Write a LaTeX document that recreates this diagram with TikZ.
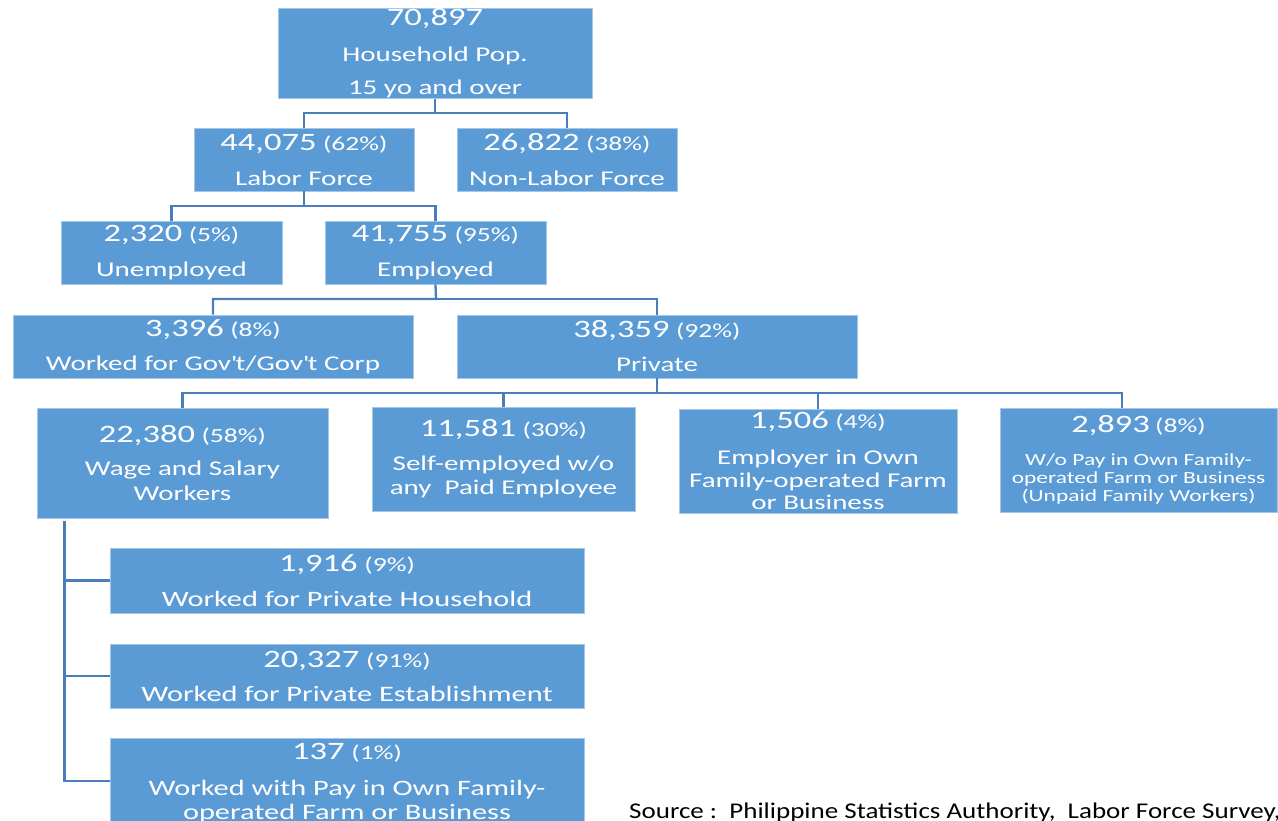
\documentclass[tikz,border=0pt]{standalone}
\usepackage{fontspec}
\setmainfont{Carlito}[FakeStretch=1.38]
\newfontfamily\srcfont{Carlito}[FakeStretch=1.2]
\definecolor{boxfill}{RGB}{91,155,213}
\definecolor{boxedge}{RGB}{165,198,232}
\definecolor{linecol}{RGB}{74,126,187}
\newcommand\nm[1]{{\fontsize{25}{25}\selectfont #1}}
\newcommand\pc[1]{{\fontsize{20}{20}\selectfont #1}}
\begin{document}
\begin{tikzpicture}[x=1pt,y=-1pt,
  box/.style={draw=boxedge, line width=0.8pt, fill=boxfill, text=white, align=center,
    inner sep=0pt, font=\fontsize{21}{24}\selectfont},
  link/.style={draw=linecol, line width=2.3pt}]
\useasboundingbox (0,0) rectangle (1278,821);
\clip (0,0) rectangle (1278,821);

\node[box, minimum width=314pt, minimum height=89pt] (top) at (435,53.5)
  {\nm{70,897}\\[12pt]Household Pop.\\[9pt]15 yo and over};
\node[box, minimum width=220pt, minimum height=63pt] (lf) at (304,159.5)
  {\nm{44,075} \pc{(62\%)}\\[11pt]Labor Force};
\node[box, minimum width=220pt, minimum height=63pt] (nlf) at (567,159.5)
  {\nm{26,822} \pc{(38\%)}\\[11pt]Non-Labor Force};
\node[box, minimum width=221pt, minimum height=63pt] (unemp) at (171.5,252.5)
  {\nm{2,320} \pc{(5\%)}\\[11pt]Unemployed};
\node[box, minimum width=221pt, minimum height=63pt] (emp) at (435.5,252.5)
  {\nm{41,755} \pc{(95\%)}\\[11pt]Employed};
\node[box, minimum width=400pt, minimum height=63pt] (gov) at (213,346.5)
  {\nm{3,396} \pc{(8\%)}\\[10pt]Worked for Gov\textquotesingle t/Gov\textquotesingle t Corp};
\node[box, minimum width=400pt, minimum height=63pt] (priv) at (657,346.5)
  {\nm{38,359} \pc{(92\%)}\\[10pt]Private};
\node[box, minimum width=291pt, minimum height=110pt] (wage) at (182.5,463)
  {\nm{22,380} \pc{(58\%)}\\[9pt]Wage and Salary\\[1pt]Workers};
\node[box, minimum width=263pt, minimum height=104pt] (self) at (503.5,459)
  {\nm{11,581} \pc{(30\%)}\\[10pt]Self-employed w/o\\any\ \ Paid Employee};
\node[box, minimum width=278pt, minimum height=104pt, font=\fontsize{21}{22.5}\selectfont] (empl) at (818,461)
  {\nm{1,506} \pc{(4\%)}\\[13.5pt]Employer in Own\\Family-operated Farm\\or Business};
\node[box, minimum width=277pt, minimum height=104pt, font=\fontsize{17}{18}\selectfont] (wop) at (1138.5,460)
  {\nm{2,893} \pc{(8\%)}\\[15pt]W/o Pay in Own Family-\\operated Farm or Business\\(Unpaid Family Workers)};
\node[box, minimum width=474pt, minimum height=65pt, font=\fontsize{22}{24}\selectfont] (ph) at (347,580.5)
  {\nm{1,916} \pc{(9\%)}\\[11pt]Worked for Private Household};
\node[box, minimum width=474pt, minimum height=64pt, font=\fontsize{22}{24}\selectfont] (pe) at (347,676)
  {\nm{20,327} \pc{(91\%)}\\[10pt]Worked for Private Establishment};
\node[box, minimum width=474pt, minimum height=90pt, font=\fontsize{22}{24}\selectfont] (pf) at (347,783)
  {\nm{137} \pc{(1\%)}\\[12pt]Worked with Pay in Own Family-\\operated Farm or Business};

\node[anchor=base west, inner sep=0pt, font=\srcfont\fontsize{22.5}{25}\selectfont] (src) at (629,818)
  {Source :\ \ Philippine Statistics Authority,\ \ Labor Force Survey,};

% connectors
\coordinate (j1) at (435,113);
\draw[link] (top.south) -- (j1) -| (lf.north);
\draw[link] (j1) -| (nlf.north);
\coordinate (j2) at (304,206);
\draw[link] (lf.south) -- (j2) -| (unemp.north);
\draw[link] (j2) -| (emp.north);
\coordinate (j3) at (436,299);
\draw[link] (emp.south) -- (j3) -| (gov.north);
\draw[link] (j3) -| (priv.north);
\coordinate (j4) at (657,393);
\draw[link] (priv.south) -- (j4) -| (wage.north);
\draw[link] (j4) -| (self.north);
\draw[link] (j4) -| (empl.north);
\draw[link] (j4) -| ([xshift=-16.5pt]wop.north);
\coordinate (w0) at ([xshift=28pt,yshift=-3pt]wage.south west);
\draw[link] (w0) |- (ph.west);
\draw[link] (w0) |- (pe.west);
\draw[link] (w0) |- ([yshift=2pt]pf.west);
\end{tikzpicture}
\end{document}
